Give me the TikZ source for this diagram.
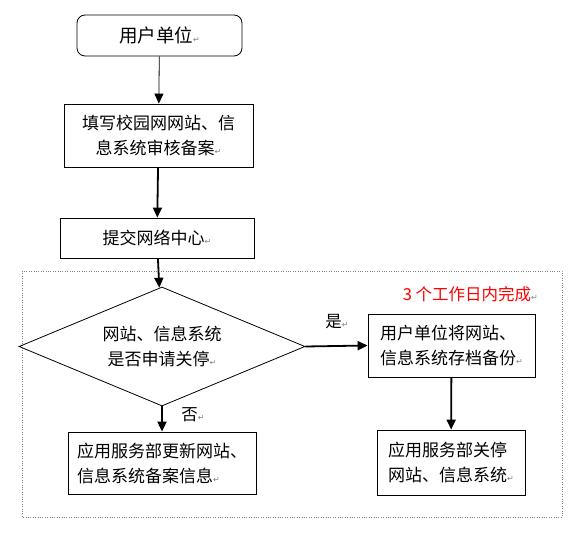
\documentclass[tikz,border=0pt]{standalone}
\usepackage{fontspec}
\setmainfont{Noto Sans CJK SC}
\newfontfamily\symfont{DejaVu Sans}
\usetikzlibrary{arrows.meta,shapes.geometric}
\newcommand{\retmark}{{\symfont\color{gray}\fontsize{8pt}{8pt}\selectfont ↵}}

\begin{document}
\begin{tikzpicture}[x=1pt,y=-1pt,
    box/.style={draw,line width=0.8pt,rectangle,inner sep=0pt,font=\fontsize{17pt}{25pt}\selectfont},
    flow/.style={-{Triangle[width=9pt,length=10pt]},line width=1.8pt},
    lbl/.style={font=\fontsize{16.5pt}{18pt}\selectfont,inner sep=0pt}]
    \useasboundingbox (0,0) rectangle (585,534);
    \draw[gray,dotted] (22,271) rectangle (562,517);

    \node[box,rounded corners=8pt,minimum width=165pt,minimum height=41pt,font=\fontsize{18.5pt}{25pt}\selectfont] (unit) at (159.5,35.5){用户单位\retmark};
    \node[box,align=center,minimum width=189pt,minimum height=63pt] (fill) at (158.5,135.5){填写校园网网站、信\\息系统审核备案\retmark};
    \node[box,minimum width=194pt,minimum height=40pt] (submit) at (157,238){提交网络中心\retmark};
    \node[box,diamond,align=center,aspect=2.4,minimum width=286pt,minimum height=119pt] (ask) at (162,346.5){网站、信息系统\\是否申请关停\retmark};

    \node[box,align=left,minimum width=188pt,minimum height=62pt] (update) at (162,463){应用服务部更新网站、\\信息系统备案信息\retmark};
    \node[box,align=left,minimum width=167pt,minimum height=63pt] (backup) at (451.5,345.5){用户单位将网站、\\信息系统存档备份\retmark};
    \node[box,align=left,minimum width=148pt,minimum height=65pt] (close) at (451,462.5){应用服务部关停\\网站、信息系统\retmark};

    \node[lbl,anchor=east,text=red] (days) at (538,294){3 个工作日内完成\retmark};
    \node[lbl] (yes) at (337,322){是\retmark};
    \node[lbl] (no) at (193,415){否\retmark};

    \draw[-{Triangle[width=9pt,length=10pt]},line width=0.8pt] (unit) -- (fill);
    \draw[flow] (fill) -- (submit);
    \draw[flow] (submit) -- (ask);
    \draw[flow] (ask.south) -- (ask.south |- update.north);
    \draw[flow] (ask.east) -- (backup.west);
    \draw[flow] (backup) -- (close);
\end{tikzpicture}
\end{document}
